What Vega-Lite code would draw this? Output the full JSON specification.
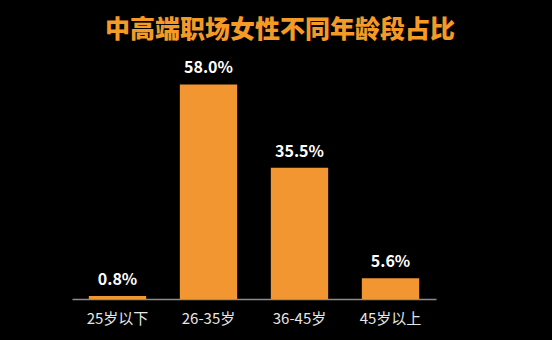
{
  "$schema": "https://vega.github.io/schema/vega-lite/v6.json",
  "autosize": "none",
  "width": 364,
  "height": 259,
  "padding": {"left": 72, "top": 40, "right": 116, "bottom": 41},
  "background": "#000000",
  "config": {"view": {"stroke": null}, "font": "Noto Sans CJK SC"},
  "title": {
    "text": "中高端职场女性不同年龄段占比",
    "color": "#F49A26",
    "font": "Noto Sans CJK SC",
    "fontSize": 25,
    "fontWeight": 900,
    "anchor": "middle",
    "dx": 26,
    "dy": 30,
    "offset": 2,
    "baseline": "bottom"
  },
  "data": {
    "values": [
      {"age": "25岁以下", "pct": 0.8, "label": "0.8%"},
      {"age": "26-35岁", "pct": 58.0, "label": "58.0%"},
      {"age": "36-45岁", "pct": 35.5, "label": "35.5%"},
      {"age": "45岁以上", "pct": 5.6, "label": "5.6%"}
    ]
  },
  "encoding": {
    "x": {
      "field": "age",
      "type": "nominal",
      "sort": null,
      "scale": {"paddingInner": 0.37, "paddingOuter": 0.185},
      "axis": {
        "title": null,
        "labelAngle": 0,
        "labelColor": "#E6E6E6",
        "labelFontSize": 15,
        "labelFont": "Noto Sans CJK SC",
        "labelPadding": 12,
        "domainColor": "#8C8C8C",
        "domainWidth": 1.5,
        "ticks": false
      }
    },
    "y": {
      "field": "pct",
      "type": "quantitative",
      "scale": {"domain": [0, 70], "nice": false},
      "axis": null
    }
  },
  "layer": [
    {"mark": {"type": "bar", "color": "#F29632"}},
    {
      "mark": {
        "type": "text",
        "color": "#FFFFFF",
        "fontWeight": "bold",
        "fontSize": 16,
        "baseline": "bottom",
        "dy": -8
      },
      "encoding": {"text": {"field": "label"}}
    }
  ]
}
